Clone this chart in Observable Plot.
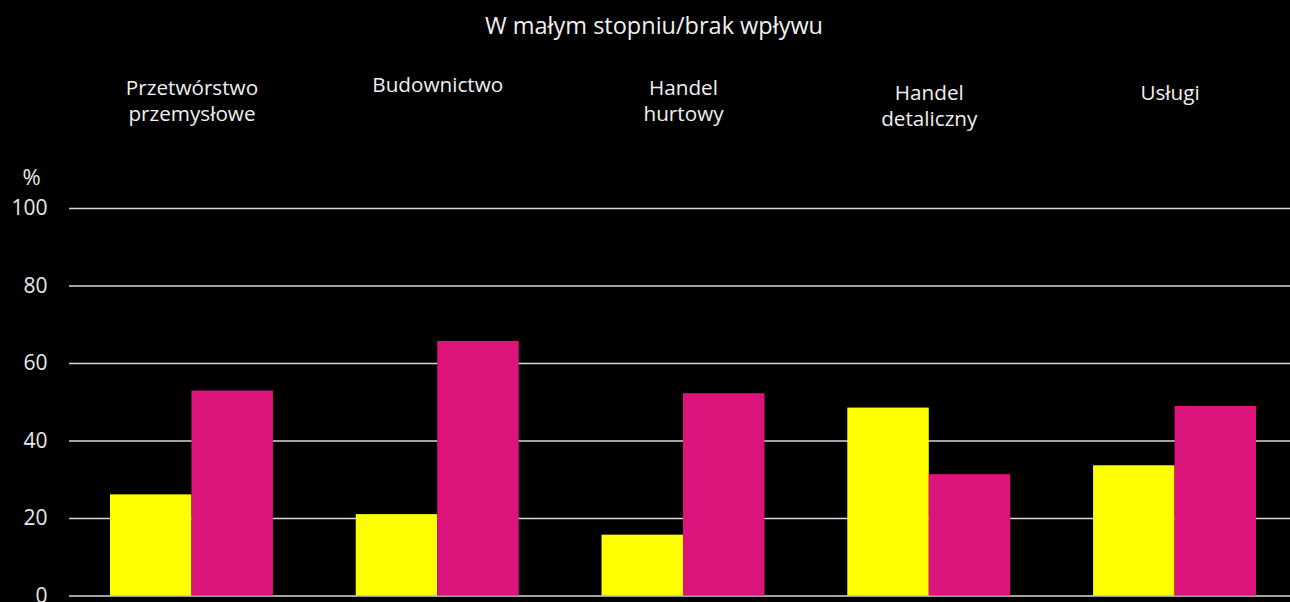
<!DOCTYPE html>
<html>
<head>
<meta charset="utf-8">
<script src="https://cdn.jsdelivr.net/npm/d3@7"></script>
<script src="https://cdn.jsdelivr.net/npm/@observablehq/plot@0.6"></script>
<style>
  html, body { margin: 0; padding: 0; background: #000; overflow: hidden; width: 1290px; height: 602px; }
  #title { height: 52px; line-height: 50px; text-align: center; padding-left: 18px; color: #f0f0f0;
           font-family: "Open Sans", sans-serif; font-size: 23.5px; box-sizing: border-box; width: 1290px; }
  #chart svg { display: block; }
</style>
</head>
<body>
<div id="title">W małym stopniu/brak wpływu</div>
<div id="chart"></div>
<script>
const categories = ["Przetwórstwo przemysłowe", "Budownictwo", "Handel hurtowy", "Handel detaliczny", "Usługi"];
const categoryLabels = ["Przetwórstwo\nprzemysłowe", "Budownictwo", "Handel\nhurtowy", "Handel\ndetaliczny", "Usługi"];
const seriesYellow = [26.1, 21.0, 15.7, 48.5, 33.6];
const seriesMagenta = [52.9, 65.7, 52.2, 31.3, 48.9];
const yTicks = [0, 20, 40, 60, 80, 100];

const data = categories.map((c, i) => ({category: c, label: categoryLabels[i], yellow: seriesYellow[i], magenta: seriesMagenta[i]}));

const W = 1290, H = 550;
const marginLeft = 69, marginRight = -7, marginTop = 156, marginBottom = 6.5;
const paddingInner = 0.337, paddingOuter = 0.1668;
const step = (W - marginLeft - marginRight) / (categories.length - paddingInner + 2 * paddingOuter);
const bandwidth = step * (1 - paddingInner);
const half = bandwidth / 2;

// label vertical offsets (relative to frame top)
const labelTop = [-132, -135, -132, -127, -127];
const labelDx = [0, 0, 0, 0, -5];

const font = "'Open Sans', sans-serif";
const labelMarks = data.map((d, i) => Plot.text([d], {
  x: "category", text: "label", frameAnchor: "top", lineAnchor: "top",
  dy: labelTop[i], dx: labelDx[i], fill: "#f0f0f0", fontSize: 20.7, lineHeight: 1.26, fontFamily: font
}));

const chart = Plot.plot({
  width: W, height: H,
  marginLeft, marginRight, marginTop, marginBottom,
  style: {background: "#000", color: "#e8e8e8", fontFamily: font, overflow: "visible"},
  x: {domain: categories, type: "band", paddingInner, paddingOuter, align: 0.5, round: false, axis: null},
  y: {domain: [0, 100], ticks: yTicks, label: null},
  marks: [
    Plot.ruleY(yTicks, {stroke: "#d8d8d8", strokeWidth: 1.5}),
    Plot.axisY(yTicks, {tickSize: 0, tickPadding: 22, fontSize: 21, fill: "#e8e8e8", label: null, fontFamily: font}),
    Plot.barY(data, {x: "category", y: "yellow", fill: "#FFFF00", insetRight: half}),
    Plot.barY(data, {x: "category", y: "magenta", fill: "#DD147B", insetLeft: half}),
    Plot.text(["%"], {frameAnchor: "top-left", dx: -47, dy: -39, text: d => d, fill: "#e8e8e8", fontSize: 22, fontFamily: font}),
    ...labelMarks
  ]
});
document.getElementById("chart").appendChild(chart);
</script>
</body>
</html>
